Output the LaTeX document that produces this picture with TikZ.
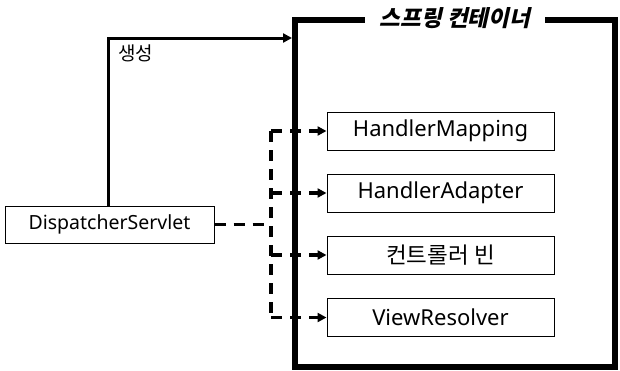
\documentclass[tikz,border=0pt]{standalone}
\usepackage{fontspec}
\setmainfont{Noto Sans}
\newfontfamily\kr{Noto Sans CJK KR}
\newfontfamily\krtitle[FakeSlant=0.22]{Noto Sans CJK KR}
\usetikzlibrary{arrows.meta}
\tikzset{
  x=1pt, y=-1pt,
  box/.style={draw, line width=1pt, minimum width=227pt, minimum height=38pt, inner sep=0pt, font=\fontsize{22}{26}\selectfont},
  dsbox/.style={draw, line width=1pt, minimum width=209pt, minimum height=37pt, inner sep=0pt, font=\fontsize{19.5}{24}\selectfont},
  container/.style={draw, line width=6pt},
  dashline/.style={line width=3.5pt, dash pattern=on 11pt off 8pt},
  tip/.style={-{Triangle[length=9pt,width=9pt]}},
}
\begin{document}
\begin{tikzpicture}
\useasboundingbox (0,0) rectangle (620,370);
% container
\draw[container] (295,20) rectangle (615,367);
\node[fill=white, minimum width=180pt, inner ysep=2pt, font=\krtitle\bfseries\fontsize{22.5}{26}\selectfont] (title) at (455,18) {스프링 컨테이너};
% boxes
\node[box] (hm) at (440.5,131) {HandlerMapping};
\node[box] (ha) at (440.5,193) {HandlerAdapter};
\node[box, font=\kr\fontsize{22.5}{26}\selectfont] (cb) at (440.5,255) {컨트롤러 빈};
\node[box] (vr) at (440.5,317.5) {ViewResolver};
\node[dsbox] (ds) at (109.5,224.5) {DispatcherServlet};
% creation arrow
\coordinate (cl) at (292,38);
\draw[line width=3pt, tip] (ds.north -| 108.5,0) |- (cl);
\node[anchor=west, inner sep=0pt, font=\kr\fontsize{19}{22}\selectfont] (lbl) at (118,53) {생성};
% dashed connectors
\coordinate (j) at (271,224.5);
\draw[dashline] (ds.east) -- (j);
\draw[dashline] (j |- hm.west) -- (j |- vr.west);
\foreach \b in {hm,ha,cb,vr}{
  \draw[dashline, tip] (j |- \b.west) -- (\b.west);
}
\end{tikzpicture}
\end{document}
